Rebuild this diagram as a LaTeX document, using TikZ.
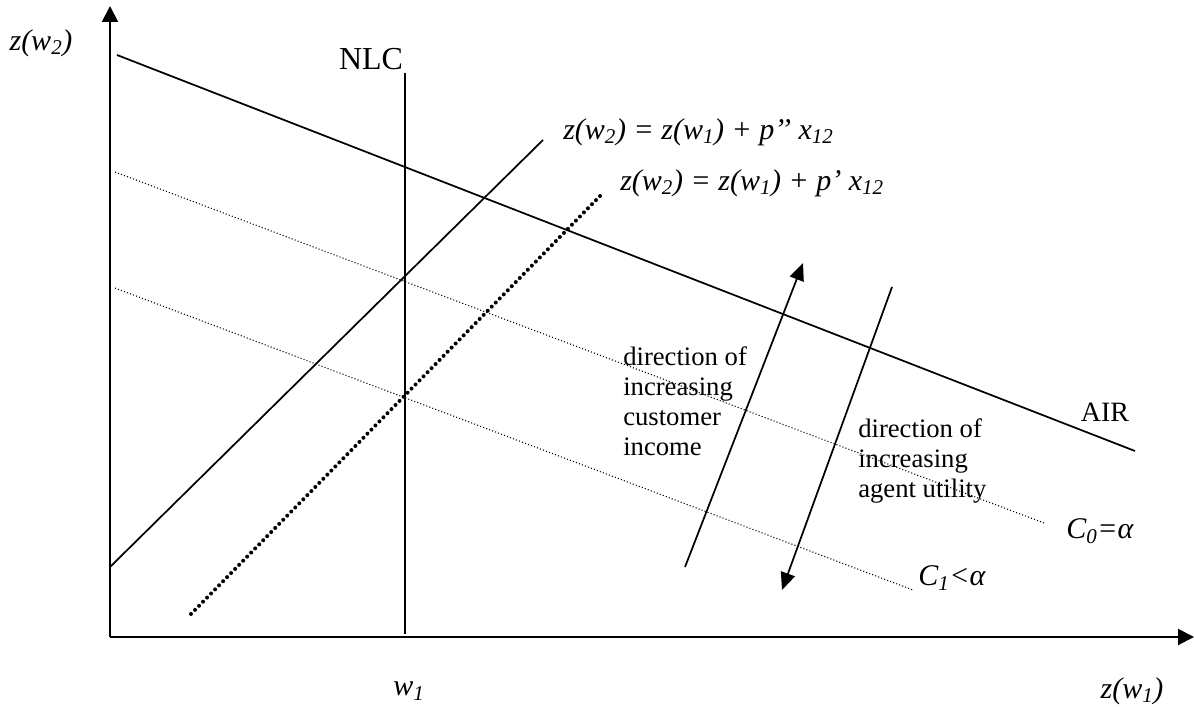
\documentclass[tikz,border=0pt]{standalone}
\usepackage{fontspec}
\setmainfont{Liberation Serif}
\usetikzlibrary{arrows.meta}
\tikzset{
  axis/.style={line width=1.5pt,-{Triangle[length=12pt,width=12pt]}},
  curve/.style={line width=1.3pt},
  thindot/.style={line width=0.8pt,dash pattern=on 0.8pt off 1.6pt},
  bigdot/.style={line width=3pt,line cap=round,dash pattern=on 0pt off 4.3pt},
  dirarrow/.style={line width=1.3pt},
  tip/.style={-{Triangle[length=13pt,width=11pt]}},
  lbl/.style={inner sep=0pt,font=\fontsize{21}{22.5}\selectfont},
  ilbl/.style={inner sep=0pt,font=\fontsize{22.5}{24}\selectfont\itshape},
  block/.style={inner sep=0pt,align=left,font=\fontsize{20}{22.5}\selectfont},
}
\begin{document}
\begin{tikzpicture}[x=0.75pt,y=-0.75pt]
\useasboundingbox (0,0) rectangle (1194,706);
% axes
\coordinate (O) at (110,637);
\coordinate (Ytop) at (110,6);
\coordinate (Xend) at (1194,637);
\draw[axis] (O) -- (Ytop);
\draw[axis] (O) -- (Xend);
% AIR
\coordinate (air1) at (117,55);
\coordinate (air2) at (1135,451);
\draw[curve] (air1) -- (air2);
% NLC
\coordinate (nlc1) at (405,73);
\coordinate (nlc2) at (405,634);
\draw[curve] (nlc1) -- (nlc2);
% p'' line
\coordinate (pp1) at (110,567);
\coordinate (pp2) at (543,140);
\draw[curve] (pp1) -- (pp2);
% p' line (thick dotted)
\coordinate (p1) at (191,614);
\coordinate (p2) at (600,196);
\draw[bigdot] (p1) -- (p2);
% C0 and C1
\coordinate (c0a) at (115,172);
\coordinate (c0b) at (1044,523);
\draw[thindot] (c0a) -- (c0b);
\coordinate (c1a) at (115,288);
\coordinate (c1b) at (913,590);
\draw[thindot] (c1a) -- (c1b);
% direction arrows
\coordinate (a1s) at (685,567);
\coordinate (a1e) at (803,263);
\draw[dirarrow,tip] (a1s) -- (a1e);
\coordinate (a2s) at (892,287);
\coordinate (a2e) at (782,590);
\draw[dirarrow,tip] (a2s) -- (a2e);
% labels
\node[ilbl] (ly) at (41,43) {z(w\textsubscript{2})};
\node[ilbl] (lw) at (409,691) {w\textsubscript{1}};
\node[ilbl] (lx) at (1132,691) {z(w\textsubscript{1})};
\node[lbl,font=\fontsize{24}{26}\selectfont] (lnlc) at (371,59) {NLC};
\node[lbl] (lair) at (1105,412) {AIR};
\node[ilbl,anchor=west] (lpp) at (563,132) {z(w\textsubscript{2}) = z(w\textsubscript{1}) + p’’ x\textsubscript{12}};
\node[ilbl,anchor=west] (lp) at (620,183) {z(w\textsubscript{2}) = z(w\textsubscript{1}) + p’ x\textsubscript{12}};
\node[ilbl,anchor=west] (lc0) at (1066,531) {C\textsubscript{0}=α};
\node[ilbl,anchor=west] (lc1) at (918,578) {C\textsubscript{1}<α};
\node[block,anchor=north west] (t1) at (623,346) {direction of\\increasing\\customer\\income};
\node[block,anchor=north west] (t2) at (858,418) {direction of\\increasing\\agent utility};
\end{tikzpicture}
\end{document}
